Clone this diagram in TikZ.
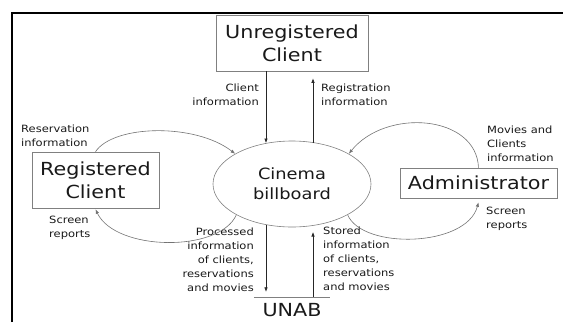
\documentclass[tikz,border=0pt]{standalone}
\usepackage{fontspec}
\setmainfont{DejaVu Sans}[FakeStretch=1.15]
\usetikzlibrary{arrows.meta,shapes.geometric}

\begin{document}
\begin{tikzpicture}[x=1pt,y=-1pt,>={Latex[length=4.5pt,width=3.5pt]},
entity/.style={draw=black!50,line width=0.6pt,align=center,inner sep=0pt,text=black!90,font=\fontsize{18}{23}\selectfont},
process/.style={ellipse,draw=black!50,line width=0.6pt,align=center,inner sep=0pt,minimum width=158pt,minimum height=86pt,text=black!90,font=\fontsize{15.5}{20}\selectfont},
note/.style={align=left,inner sep=0pt,text=black!90,font=\fontsize{10}{14}\selectfont},
flow/.style={->,draw=black!55,line width=0.6pt},
pipe/.style={->,draw=black!85,semithick}]
\useasboundingbox (0,0) rectangle (563,322);
\draw[line width=2.5pt] (12,322) -- (12,13) -- (563,13);
\node[entity,minimum width=152pt,minimum height=56pt] (unreg) at (292,43) {Unregistered\\Client};
\node[entity,minimum width=127pt,minimum height=56pt] (reg) at (95.5,180) {Registered\\Client};
\node[entity,minimum width=157pt,minimum height=30pt] (admin) at (478.5,183) {Administrator};
\node[process] (cinema) at (292,184) {Cinema\\billboard};
\node[text=black!90,font=\fontsize{18}{22}\selectfont,minimum width=76pt,minimum height=26pt,inner sep=0pt] (unab) at (292,310) {UNAB};
\draw[draw=black!50,line width=0.6pt] (unab.north west) -- (unab.north east);
% labels
\node[note,anchor=east,align=right] (clientinfo) at (259,95) {Client\\information};
\node[note,anchor=west] (reginfo) at (321,95) {Registration\\information};
\node[note,anchor=west] (resinfo) at (21,135.5) {Reservation\\information};
\node[note,anchor=west] (movinfo) at (487,143.5) {Movies and\\Clients\\information};
\node[note,anchor=west] (screenl) at (49,228) {Screen\\reports};
\node[note,anchor=west] (screenr) at (486,219) {Screen\\reports};
\node[note,anchor=east,align=right] (procinfo) at (254,260) {Processed\\information\\of clients,\\reservations\\and movies};
\node[note,anchor=west] (storinfo) at (323,259) {Stored\\information\\of clients,\\reservations\\and movies};
% data flows
\draw[pipe] ([xshift=-26pt]unreg.south) -- ([xshift=-26pt,yshift=41pt]cinema.center);
\draw[pipe] ([xshift=21pt,yshift=41pt]cinema.center) -- ([xshift=21pt,yshift=-7pt]unreg.south);
\draw[pipe] ([xshift=-26pt,yshift=-41pt]cinema.center) -- ([xshift=-26pt,yshift=5pt]unab.north);
\draw[pipe] ([xshift=21pt]unab.north) -- ([xshift=21pt,yshift=-48pt]cinema.center);
\draw[flow] (reg.north) .. controls +(18,-27) and +(-40,-31) .. (cinema.152);
\draw[flow] (admin.north) .. controls +(-2,-53) and +(37,-46) .. (cinema.28);
\draw[flow] (cinema.209) .. controls +(-17,38) and +(20,42) .. ([yshift=-1pt]reg.south);
\draw[flow] (cinema.-29) .. controls +(15,35) and +(-12,45) .. ([yshift=-4pt]admin.south);
\end{tikzpicture}
\end{document}
